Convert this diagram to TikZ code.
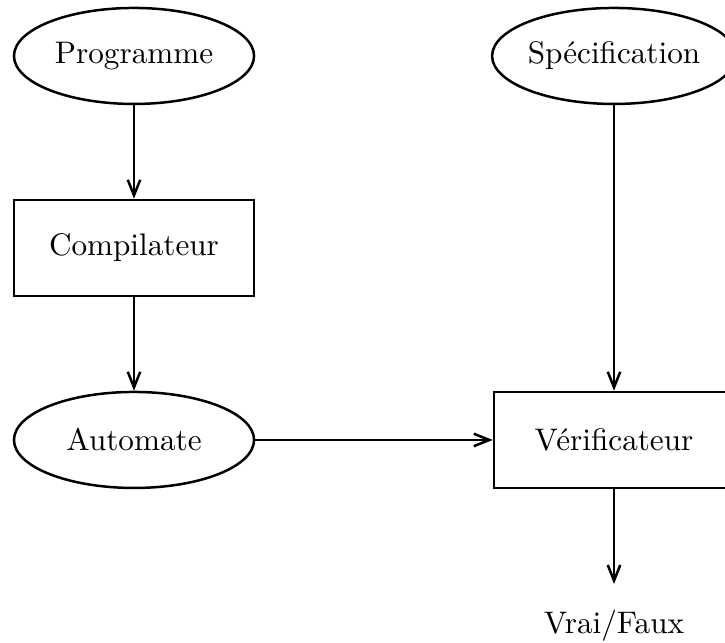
\documentclass[tikz,border=0pt]{standalone}
\usepackage{amsmath,amssymb}
\usepackage{xcolor}
\usepackage{tikz}
\usetikzlibrary{arrows.meta,
                shapes.geometric,
                positioning}

\begin{document}
\begin{tikzpicture}[x=1.082cm,y=1.082cm,thick,
  data/.style={ellipse,draw,minimum width=2.706cm,minimum height=1.082cm,inner sep=0pt},
  tool/.style={rectangle,draw,minimum width=2.706cm,minimum height=1.082cm},
  flow/.style={-{Straight Barb[length=5pt,width=4pt]}}]
\useasboundingbox (-1.396,0.583) rectangle (6.156,-6.115);
\node [data] (prog) at (0,0) {Programme};
\node [tool] (comp) at (0,-2) {Compilateur};
\node [data] (auto) at (0,-4) {Automate};
\node [data] (spec) at (5,0) {Spécification};
\node [tool] (verif) at (5,-4) {Vérificateur};
\node (res) at (5,-5.93) {Vrai/Faux};
\coordinate (out) at (5,-5.5);
\draw [flow] (prog) -- (comp);
\draw [flow] (comp) -- (auto);
\draw [flow] (auto) -- (verif);
\draw [flow] (spec) -- (verif);
\draw [flow] (verif) -- (out);
\end{tikzpicture}
\end{document}
